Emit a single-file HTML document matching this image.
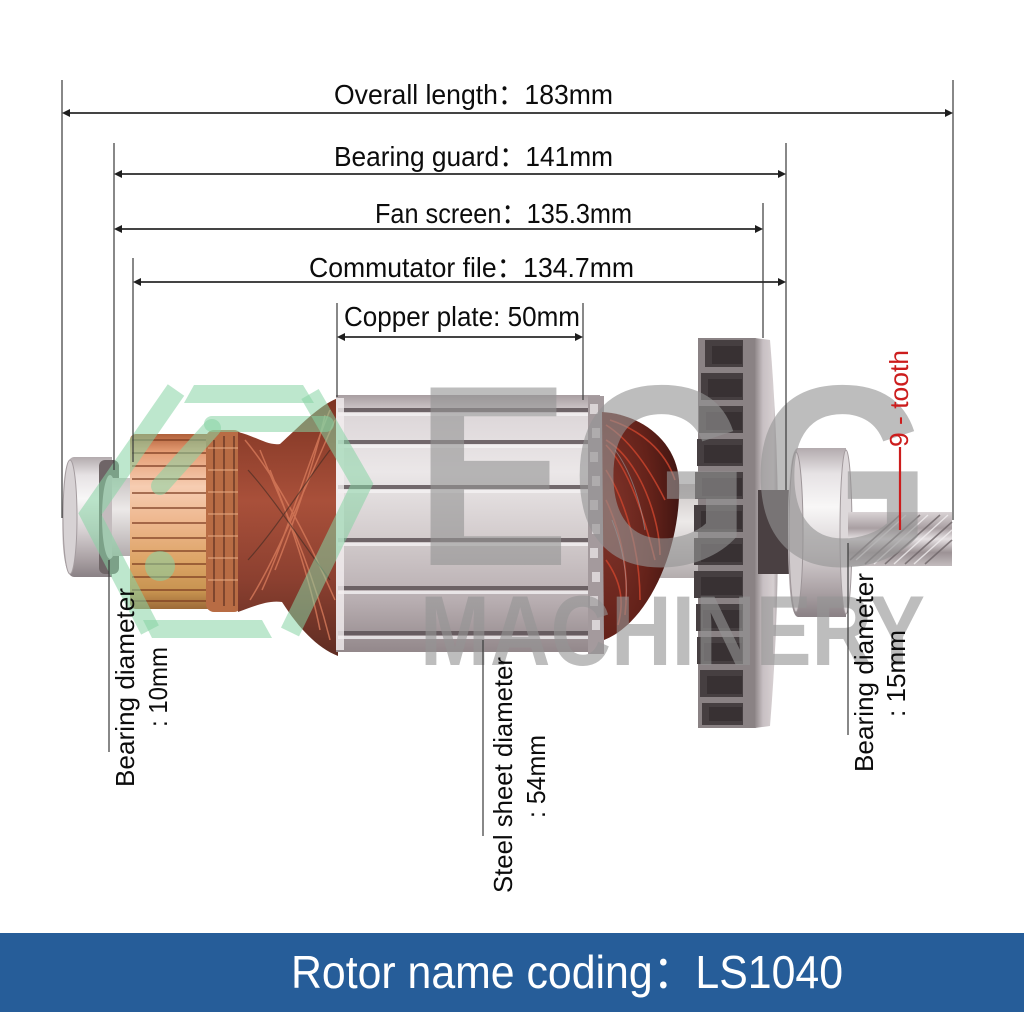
<!DOCTYPE html>
<html><head><meta charset="utf-8">
<style>
html,body{margin:0;padding:0;background:#fff;width:1024px;height:1024px;overflow:hidden;}
svg{display:block}
text{font-family:"Liberation Sans","Noto Sans CJK SC",sans-serif;}
</style></head><body>
<svg width="1024" height="1024" viewBox="0 0 1024 1024" xmlns="http://www.w3.org/2000/svg">
<defs>
  <linearGradient id="gBear" x1="0" y1="0" x2="0" y2="1">
    <stop offset="0" stop-color="#b3abae"/><stop offset="0.15" stop-color="#e6e2e4"/>
    <stop offset="0.35" stop-color="#f8f7f7"/><stop offset="0.6" stop-color="#d9d3d5"/>
    <stop offset="0.85" stop-color="#aaa1a4"/><stop offset="1" stop-color="#8a8185"/>
  </linearGradient>
  <linearGradient id="gComm" x1="0" y1="0" x2="0" y2="1">
    <stop offset="0" stop-color="#b0603a"/><stop offset="0.1" stop-color="#e59c73"/>
    <stop offset="0.3" stop-color="#f6cdb2"/><stop offset="0.5" stop-color="#eeb78e"/>
    <stop offset="0.72" stop-color="#dda567"/><stop offset="0.9" stop-color="#c79350"/>
    <stop offset="1" stop-color="#9c6a38"/>
  </linearGradient>
  <linearGradient id="gCore" x1="0" y1="0" x2="0" y2="1">
    <stop offset="0" stop-color="#a89ea1"/><stop offset="0.08" stop-color="#ddd7d9"/>
    <stop offset="0.3" stop-color="#ebe7e8"/><stop offset="0.55" stop-color="#d3cccd"/>
    <stop offset="0.8" stop-color="#b8aeb1"/><stop offset="1" stop-color="#93888b"/>
  </linearGradient>
  <linearGradient id="gWindL" x1="0" y1="0" x2="0" y2="1">
    <stop offset="0" stop-color="#7c3322"/><stop offset="0.4" stop-color="#a9503a"/>
    <stop offset="0.7" stop-color="#8c4030"/><stop offset="1" stop-color="#5e2c22"/>
  </linearGradient>
  <radialGradient id="gWindR" cx="0.1" cy="0.45" r="0.9">
    <stop offset="0" stop-color="#80342a"/><stop offset="0.6" stop-color="#64221a"/>
    <stop offset="1" stop-color="#421612"/>
  </radialGradient>
  <linearGradient id="gDisk" x1="0" y1="0" x2="1" y2="0">
    <stop offset="0" stop-color="#8f8789"/><stop offset="0.35" stop-color="#c8c0c3"/>
    <stop offset="0.8" stop-color="#d6cfd1"/><stop offset="1" stop-color="#aaa2a5"/>
  </linearGradient>
  <linearGradient id="gGear" x1="0" y1="0" x2="0" y2="1">
    <stop offset="0" stop-color="#d9d3d5"/><stop offset="0.3" stop-color="#a99fa2"/>
    <stop offset="0.5" stop-color="#e6e1e3"/><stop offset="0.75" stop-color="#9c9295"/>
    <stop offset="1" stop-color="#c3bcbe"/>
  </linearGradient>
  <linearGradient id="gShaft" x1="0" y1="0" x2="0" y2="1">
    <stop offset="0" stop-color="#c9c3c3"/><stop offset="0.4" stop-color="#ece9e8"/>
    <stop offset="1" stop-color="#b4adae"/>
  </linearGradient>
</defs>

<!-- left bearing -->
<path d="M74,457 L112,457 L112,577 L74,577 Q62,577 62,517 Q62,457 74,457 Z" fill="url(#gBear)"/>
<ellipse cx="70" cy="517" rx="7" ry="57" fill="#d7d2d4" stroke="#a49c9f" stroke-width="1"/>
<rect x="99" y="460" width="20" height="114" rx="6" fill="#6f6567"/>
<ellipse cx="110" cy="517" rx="8" ry="42" fill="#c4bcbe"/>
<rect x="112" y="478" width="22" height="78" fill="url(#gShaft)"/>

<!-- commutator -->
<rect x="130" y="434" width="84" height="175" rx="6" fill="url(#gComm)"/>
<g stroke="#7a3a20" stroke-width="1.6" opacity="0.85">
  <line x1="132" y1="440" x2="212" y2="440"/><line x1="132" y1="453" x2="212" y2="453"/>
  <line x1="132" y1="466" x2="212" y2="466"/><line x1="132" y1="479" x2="212" y2="479"/>
  <line x1="132" y1="493" x2="212" y2="493"/><line x1="132" y1="508" x2="212" y2="508"/>
  <line x1="132" y1="523" x2="212" y2="523"/><line x1="132" y1="538" x2="212" y2="538"/>
  <line x1="132" y1="551" x2="212" y2="551"/><line x1="132" y1="564" x2="212" y2="564"/>
  <line x1="132" y1="577" x2="212" y2="577"/><line x1="132" y1="590" x2="212" y2="590"/>
  <line x1="132" y1="601" x2="212" y2="601"/>
</g>
<!-- riser ring -->
<rect x="206" y="430" width="36" height="182" rx="8" fill="#b86c44"/>
<g stroke="#5a2e20" stroke-width="2" opacity="0.6">
  <line x1="214" y1="440" x2="214" y2="602"/><line x1="224" y1="436" x2="224" y2="606"/>
  <line x1="234" y1="436" x2="234" y2="606"/>
</g>
<g stroke="#e6a880" stroke-width="1.4" opacity="0.7">
  <line x1="208" y1="448" x2="240" y2="448"/><line x1="208" y1="470" x2="240" y2="470"/>
  <line x1="208" y1="492" x2="240" y2="492"/><line x1="208" y1="514" x2="240" y2="514"/>
  <line x1="208" y1="536" x2="240" y2="536"/><line x1="208" y1="558" x2="240" y2="558"/>
  <line x1="208" y1="580" x2="240" y2="580"/>
</g>
<!-- left winding -->
<path d="M238,432 C255,436 268,446 280,444 C300,426 318,406 338,398 L338,656 C318,648 300,630 282,602 C268,600 255,606 238,612 Z" fill="url(#gWindL)"/>
<g fill="none" stroke="#d77a5a" stroke-width="1.5" opacity="0.8">
  <path d="M245,440 C270,470 300,520 335,600"/><path d="M250,600 C275,560 300,500 335,420"/>
  <path d="M260,450 C280,500 310,560 330,640"/><path d="M262,590 C285,540 305,470 330,410"/>
  <path d="M270,470 C290,520 310,580 320,630"/><path d="M275,570 C295,520 315,460 325,415"/>
</g>
<g fill="none" stroke="#3e2a22" stroke-width="1.2" opacity="0.6">
  <path d="M248,470 C275,500 300,540 330,580"/><path d="M248,560 C275,530 300,490 330,450"/>
</g>

<!-- steel core -->
<rect x="336" y="395" width="264" height="257" fill="url(#gCore)"/>
<g>
  <rect x="338" y="408" width="256" height="4" fill="#5d5256" opacity="0.85"/>
  <rect x="338" y="440" width="256" height="4" fill="#5d5256" opacity="0.85"/>
  <rect x="338" y="485" width="256" height="4" fill="#5d5256" opacity="0.85"/>
  <rect x="338" y="538" width="256" height="4" fill="#5d5256" opacity="0.85"/>
  <rect x="338" y="586" width="256" height="4" fill="#5d5256" opacity="0.85"/>
  <rect x="338" y="631" width="256" height="4" fill="#5d5256" opacity="0.85"/>
  <rect x="338" y="413" width="256" height="3" fill="#f4f1f2" opacity="0.8"/>
  <rect x="338" y="445" width="256" height="3" fill="#f4f1f2" opacity="0.8"/>
  <rect x="338" y="490" width="256" height="3" fill="#f4f1f2" opacity="0.8"/>
  <rect x="338" y="543" width="256" height="3" fill="#f4f1f2" opacity="0.8"/>
  <rect x="338" y="591" width="256" height="3" fill="#f4f1f2" opacity="0.8"/>
  <rect x="338" y="636" width="256" height="3" fill="#f4f1f2" opacity="0.8"/>
</g>
<rect x="336" y="398" width="8" height="252" fill="#f2eeef" opacity="0.8"/>
<rect x="588" y="396" width="16" height="258" fill="#a49a9d"/>
<g fill="#d9d3d5">
  <rect x="590" y="404" width="8" height="10"/><rect x="592" y="428" width="8" height="10"/>
  <rect x="590" y="452" width="8" height="10"/><rect x="592" y="476" width="8" height="10"/>
  <rect x="590" y="500" width="8" height="10"/><rect x="592" y="524" width="8" height="10"/>
  <rect x="590" y="548" width="8" height="10"/><rect x="592" y="572" width="8" height="10"/>
  <rect x="590" y="596" width="8" height="10"/><rect x="592" y="620" width="8" height="10"/>
</g>

<!-- shaft between winding and fan -->
<rect x="640" y="484" width="60" height="94" fill="url(#gShaft)"/>

<!-- right winding -->
<path d="M602,412 C640,414 676,440 679,480 C682,545 650,622 604,640 Z" fill="url(#gWindR)"/>
<g fill="none" stroke="#c8432c" stroke-width="1.6" opacity="0.85">
  <path d="M606,425 C630,440 650,470 665,500"/><path d="M606,445 C630,470 645,520 655,560"/>
  <path d="M606,470 C625,500 640,550 640,600"/><path d="M606,500 C620,530 630,570 625,615"/>
  <path d="M610,420 C640,430 665,450 675,480"/><path d="M606,560 C620,580 625,600 618,625"/>
  <path d="M606,440 C640,460 660,520 660,555"/>
</g>
<g fill="none" stroke="#9fb0b8" stroke-width="1" opacity="0.5">
  <path d="M615,450 C630,470 640,500 645,530"/><path d="M612,520 C622,545 628,575 626,600"/>
</g>

<!-- fan -->
<rect x="698" y="338" width="52" height="390" fill="#8a8284"/>
<g fill="#463f41">
  <rect x="705" y="340" width="43" height="27"/><rect x="701" y="373" width="47" height="27"/>
  <rect x="699" y="406" width="49" height="27"/><rect x="697" y="439" width="51" height="27"/>
  <rect x="695" y="472" width="53" height="27"/><rect x="694" y="505" width="54" height="27"/>
  <rect x="694" y="538" width="54" height="27"/><rect x="694" y="571" width="54" height="27"/>
  <rect x="696" y="604" width="52" height="27"/><rect x="697" y="637" width="51" height="27"/>
  <rect x="700" y="670" width="48" height="27"/><rect x="702" y="703" width="46" height="22"/>
</g>
<g fill="#2f292b" opacity="0.6">
  <rect x="712" y="346" width="30" height="18"/><rect x="708" y="379" width="34" height="18"/>
  <rect x="706" y="412" width="36" height="18"/><rect x="704" y="445" width="38" height="18"/>
  <rect x="702" y="478" width="40" height="18"/><rect x="701" y="511" width="41" height="18"/>
  <rect x="701" y="544" width="41" height="18"/><rect x="701" y="577" width="41" height="18"/>
  <rect x="703" y="610" width="39" height="18"/><rect x="704" y="643" width="38" height="18"/>
  <rect x="707" y="676" width="35" height="18"/><rect x="709" y="707" width="33" height="14"/>
</g>
<rect x="743" y="338" width="13" height="390" fill="#8a8284"/>
<path d="M755,338 L770,340 Q786,530 770,726 L755,728 Z" fill="url(#gDisk)"/>
<rect x="758" y="490" width="32" height="84" fill="#4a4042"/>

<!-- right bearing -->
<path d="M798,448 L846,448 L846,617 L798,617 Q788,617 788,532 Q788,448 798,448 Z" fill="url(#gBear)"/>
<ellipse cx="796" cy="532" rx="7" ry="80" fill="#cfc9cb" stroke="#9d9598" stroke-width="1"/>
<ellipse cx="846" cy="532" rx="6" ry="82" fill="#ddd8da" stroke="#a29a9d" stroke-width="1"/>

<!-- gear shaft -->
<rect x="848" y="512" width="104" height="54" fill="url(#gGear)"/>
<g stroke="#6e6568" stroke-width="1.6" opacity="0.8">
  <line x1="850" y1="560" x2="900" y2="515"/><line x1="865" y1="564" x2="920" y2="515"/>
  <line x1="885" y1="564" x2="940" y2="515"/><line x1="905" y1="564" x2="952" y2="522"/>
  <line x1="925" y1="564" x2="952" y2="540"/>
</g>
<g stroke="#f2eff0" stroke-width="1.4" opacity="0.8">
  <line x1="856" y1="560" x2="906" y2="515"/><line x1="874" y1="564" x2="928" y2="515"/>
  <line x1="894" y1="564" x2="948" y2="515"/><line x1="914" y1="564" x2="952" y2="530"/>
</g>

<!-- green logo watermark -->
<g fill="none" stroke="#86d3a4" stroke-opacity="0.55" stroke-linejoin="miter">
  <polyline points="176,390 90,514 150,630" stroke-width="20"/>
  <polyline points="310,394 362,484 290,632" stroke-width="20"/>
  <line x1="212" y1="424" x2="326" y2="424" stroke-width="16" stroke-linecap="round"/>
  <line x1="212" y1="428" x2="160" y2="486" stroke-width="18" stroke-linecap="round"/>
</g>
<g fill="#86d3a4" fill-opacity="0.55">
  <polygon points="194,385 303,385 314,403 184,403"/>
  <polygon points="143,620 262,620 272,638 152,638"/>
  <circle cx="160" cy="566" r="15"/>
</g>

<!-- gray watermark -->
<g fill="#949494" fill-opacity="0.62" font-weight="bold">
  <text x="415" y="565" font-size="258" textLength="517" lengthAdjust="spacingAndGlyphs">EGG</text>
  <text x="420" y="665" font-size="99" textLength="505" lengthAdjust="spacingAndGlyphs">MACHINERY</text>
</g>

<!-- dimension lines -->
<g stroke="#3a3a3a" stroke-width="1.2">
  <line x1="62" y1="80" x2="62" y2="518"/>
  <line x1="953" y1="80" x2="953" y2="520"/>
  <line x1="114" y1="143" x2="114" y2="470"/>
  <line x1="786" y1="143" x2="786" y2="490"/>
  <line x1="763" y1="203" x2="763" y2="338"/>
  <line x1="133" y1="258" x2="133" y2="462"/>
  <line x1="337" y1="303" x2="337" y2="397"/>
  <line x1="583" y1="303" x2="583" y2="400"/>
  <line x1="109" y1="560" x2="109" y2="752"/>
  <line x1="848" y1="543" x2="848" y2="735"/>
  <line x1="483" y1="640" x2="483" y2="836"/>
</g>
<g stroke="#2a2a2a" stroke-width="1.8">
  <line x1="64" y1="113" x2="951" y2="113"/>
  <line x1="116" y1="174" x2="784" y2="174"/>
  <line x1="116" y1="229" x2="761" y2="229"/>
  <line x1="135" y1="282" x2="784" y2="282"/>
  <line x1="339" y1="337" x2="581" y2="337"/>
</g>
<g fill="#1e1e1e">
  <polygon points="62,113 70,109 70,117"/><polygon points="953,113 945,109 945,117"/>
  <polygon points="114,174 122,170 122,178"/><polygon points="786,174 778,170 778,178"/>
  <polygon points="114,229 122,225 122,233"/><polygon points="763,229 755,225 755,233"/>
  <polygon points="133,282 141,278 141,286"/><polygon points="786,282 778,278 778,286"/>
  <polygon points="337,337 345,333 345,341"/><polygon points="583,337 575,333 575,341"/>
</g>

<!-- top labels -->
<g fill="#0c0c0c" font-size="28">
  <text x="334" y="104" textLength="279" lengthAdjust="spacingAndGlyphs">Overall length：183mm</text>
  <text x="334" y="166" textLength="279" lengthAdjust="spacingAndGlyphs">Bearing guard：141mm</text>
  <text x="375" y="223" textLength="257" lengthAdjust="spacingAndGlyphs">Fan screen：135.3mm</text>
  <text x="309" y="277" textLength="325" lengthAdjust="spacingAndGlyphs">Commutator file：134.7mm</text>
  <text x="344" y="326" textLength="236" lengthAdjust="spacingAndGlyphs">Copper plate: 50mm</text>
</g>

<!-- rotated labels -->
<g fill="#0c0c0c" font-size="26">
  <text transform="translate(134,787) rotate(-90)" textLength="199" lengthAdjust="spacingAndGlyphs">Bearing diameter</text>
  <text transform="translate(167,727) rotate(-90)" textLength="80" lengthAdjust="spacingAndGlyphs">: 10mm</text>
  <text transform="translate(873,772) rotate(-90)" textLength="199" lengthAdjust="spacingAndGlyphs">Bearing diameter</text>
  <text transform="translate(905,717) rotate(-90)" textLength="87" lengthAdjust="spacingAndGlyphs">: 15mm</text>
  <text transform="translate(512,893) rotate(-90)" textLength="236" lengthAdjust="spacingAndGlyphs">Steel sheet diameter</text>
  <text transform="translate(545,818) rotate(-90)" textLength="83" lengthAdjust="spacingAndGlyphs">: 54mm</text>
</g>
<text transform="translate(908,447) rotate(-90)" fill="#cc1d1d" font-size="26" textLength="97" lengthAdjust="spacingAndGlyphs">9 - tooth</text>
<line x1="900" y1="447" x2="900" y2="530" stroke="#cc1d1d" stroke-width="2.2"/>

<!-- bottom banner -->
<rect x="0" y="933" width="1024" height="79" fill="#265d99"/>
<text x="291" y="988" fill="#ffffff" font-size="46" textLength="552" lengthAdjust="spacingAndGlyphs">Rotor name coding：LS1040</text>
</svg>
</body></html>
